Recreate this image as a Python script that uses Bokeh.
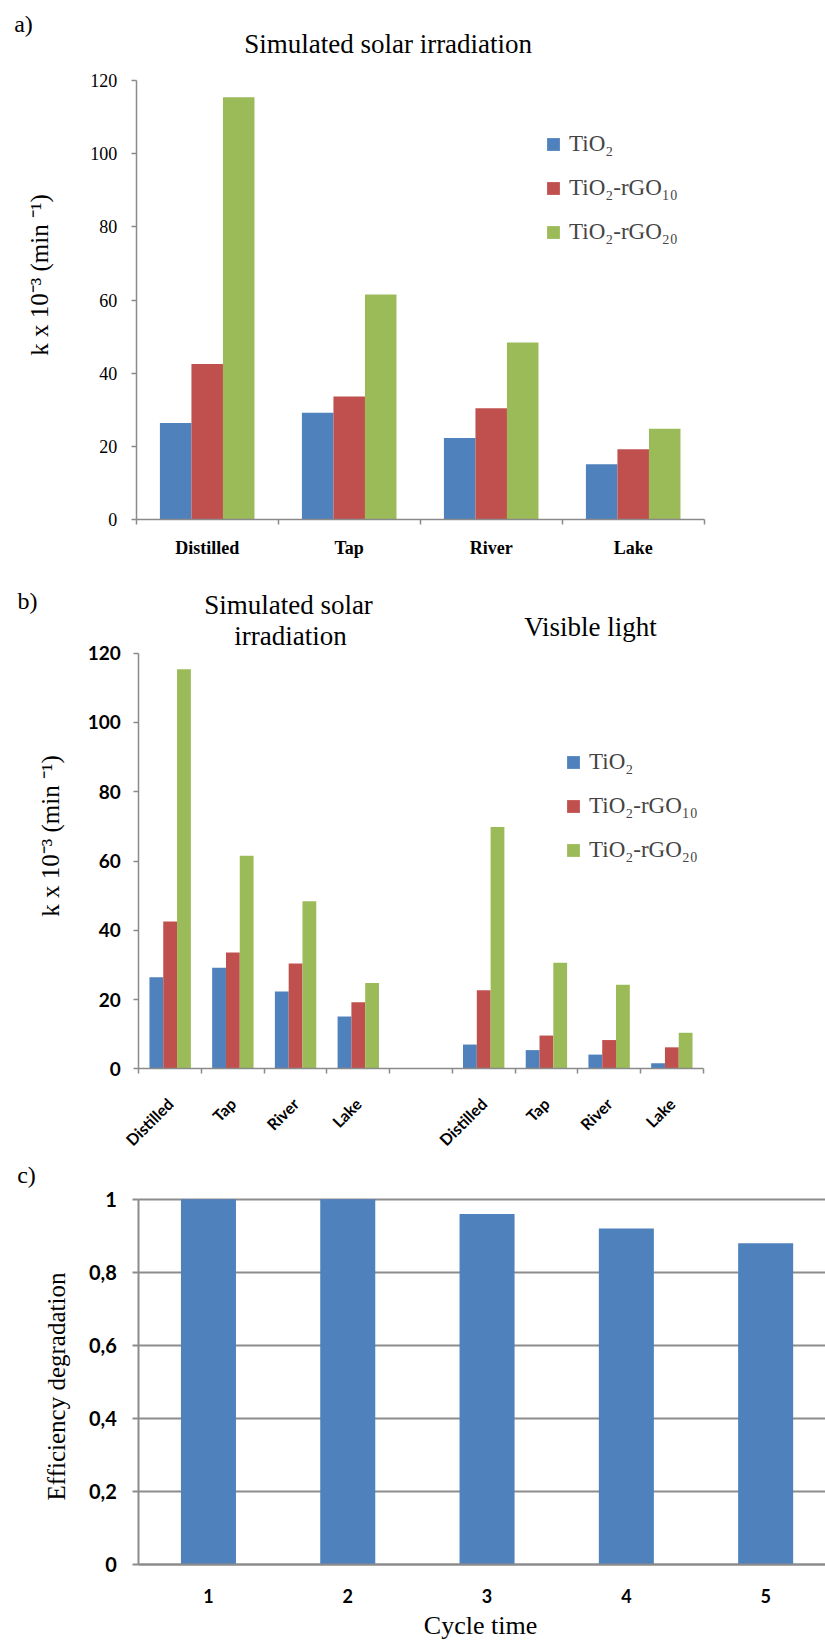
import math
from bokeh.plotting import figure
from bokeh.models import (ColumnDataSource, FixedTicker, Legend, LegendItem, Label,
                          Range1d, CustomJSTickFormatter, Grid)
from bokeh.layouts import column
from bokeh.embed import file_html
from bokeh.resources import INLINE

# ---------------- data ----------------
water = ["Distilled", "Tap", "River", "Lake"]
series_names = ["TiO₂", "TiO₂-rGO₁₀", "TiO₂-rGO₂₀"]
series_colors = ["#4F81BD", "#C0504D", "#9BBB59"]

solar_tio2 = [26.4, 29.2, 22.3, 15.1]
solar_rgo10 = [42.5, 33.6, 30.4, 19.2]
solar_rgo20 = [115.4, 61.5, 48.4, 24.8]

visible_tio2 = [7.0, 5.4, 4.1, 1.6]
visible_rgo10 = [22.7, 9.6, 8.3, 6.2]
visible_rgo20 = [69.8, 30.6, 24.3, 10.4]

cycles = ["1", "2", "3", "4", "5"]
efficiency = [1.0, 1.0, 0.96, 0.92, 0.88]

k_ticks = [0, 20, 40, 60, 80, 100, 120]
eff_ticks = [0, 0.2, 0.4, 0.6, 0.8, 1.0]
eff_tick_labels = ["0", "0,2", "0,4", "0,6", "0,8", "1"]

y_label_k = "k x 10⁻³ (min ⁻¹)"

# ---------------- layout / style ----------------
PAGE_W = 825
SERIF = "Liberation Serif"
SANS = "Lato"
AXIS_GREY = "#8a8a8a"

# page geometry of each panel: canvas top/height, y-axis pixel x, px per x unit,
# data x at the y-axis, pixel y of value 0, px per y unit
GEO_A = dict(top=0, height=570, axis_px=135.7, ppu_x=142.0, x_axis=0.0,
             zero_py=519.0, ppu_y=439.0 / 120)
GEO_B = dict(top=570, height=580, axis_px=138.3, ppu_x=62.71, x_axis=0.0,
             zero_py=1068.3, ppu_y=415.6 / 120)
GEO_C = dict(top=1150, height=495, axis_px=138.3, ppu_x=139.3, x_axis=0.5,
             zero_py=1564.3, ppu_y=365.5)


def ranges(g):
    x0 = g["x_axis"] - g["axis_px"] / g["ppu_x"]
    x1 = g["x_axis"] + (PAGE_W - g["axis_px"]) / g["ppu_x"]
    y0 = (g["zero_py"] - (g["top"] + g["height"])) / g["ppu_y"]
    y1 = (g["zero_py"] - g["top"]) / g["ppu_y"]
    return Range1d(x0, x1), Range1d(y0, y1)


def to_data(g, px, py):
    return (g["x_axis"] + (px - g["axis_px"]) / g["ppu_x"],
            (g["zero_py"] - py) / g["ppu_y"])


def add_text(p, g, px, py, text, size, angle=0.0, font=SERIF):
    x, y = to_data(g, px, py)
    p.add_layout(Label(x=x, y=y, text=text, angle=angle,
                       text_font=font, text_font_size=f"{size}px", text_align="center",
                       text_baseline="middle", text_color="black"))


def make_fig(g):
    xr, yr = ranges(g)
    p = figure(width=PAGE_W, height=g["height"], output_backend="svg",
               toolbar_location=None, x_range=xr, y_range=yr,
               min_border=0, min_border_left=0, min_border_right=0,
               min_border_top=0, min_border_bottom=0)
    p.outline_line_color = None
    p.xgrid.grid_line_color = None
    p.ygrid.grid_line_color = None
    p.background_fill_color = "white"
    p.border_fill_color = "white"
    p.xaxis.fixed_location = 0
    p.yaxis.fixed_location = g["x_axis"]
    for ax in (p.xaxis[0], p.yaxis[0]):
        ax.axis_line_color = AXIS_GREY
        ax.axis_line_width = 1.5
        ax.major_tick_line_color = AXIS_GREY
        ax.minor_tick_line_color = AXIS_GREY
        ax.major_tick_line_width = 1.5
        ax.minor_tick_line_width = 1.5
        ax.major_label_text_color = "black"
        ax.major_tick_in = 0
        ax.minor_tick_in = 0
    return p


def grouped_bars(p, positions, values_list, offset, width):
    renderers = []
    for k, (vals, col) in enumerate(zip(values_list, series_colors)):
        src = ColumnDataSource(dict(x=[c + (k - 1) * offset for c in positions], top=vals))
        r = p.vbar(x="x", top="top", width=width, bottom=0, source=src,
                   fill_color=col, line_color=None)
        renderers.append(r)
    return renderers


def add_legend(p, renderers, x, y):
    items = [LegendItem(label=n, renderers=[r]) for n, r in zip(series_names, renderers)]
    lg = Legend(items=items, location=(x, y), orientation="vertical",
                label_text_font=SERIF, label_text_font_size="23px",
                glyph_width=16, glyph_height=16, label_height=24, label_standoff=8,
                spacing=18, padding=0, margin=0, border_line_color=None,
                background_fill_alpha=0)
    p.add_layout(lg)


def category_x_axis(p, positions, labels, n_slots):
    ax = p.xaxis[0]
    ax.bounds = (0, n_slots)
    ax.ticker = FixedTicker(ticks=positions, minor_ticks=list(range(n_slots + 1)))
    ax.formatter = CustomJSTickFormatter(args=dict(labels=labels),
                                         code="return labels[Math.floor(tick)] || ''")
    ax.major_tick_out = 0
    ax.minor_tick_out = 5


def k_y_axis(p, font, bold, size, standoff):
    ax = p.yaxis[0]
    ax.bounds = (k_ticks[0], k_ticks[-1])
    ax.ticker = FixedTicker(ticks=k_ticks)
    ax.minor_tick_out = 0
    ax.major_tick_out = 5
    ax.major_label_standoff = standoff
    ax.major_label_text_font = font
    ax.major_label_text_font_size = f"{size}px"
    ax.major_label_text_font_style = "bold" if bold else "normal"


# ---------------- panel a ----------------
pa = make_fig(GEO_A)
centers_a = [i + 0.5 for i in range(len(water))]
ra = grouped_bars(pa, centers_a, [solar_tio2, solar_rgo10, solar_rgo20], 0.222, 0.222)
category_x_axis(pa, centers_a, water, len(water))
pa.xaxis.major_label_standoff = 13
pa.xaxis.major_label_text_font = SERIF
pa.xaxis.major_label_text_font_size = "18px"
pa.xaxis.major_label_text_font_style = "bold"
k_y_axis(pa, SERIF, False, 18, 14)
add_legend(pa, ra, 545, 325)
add_text(pa, GEO_A, 23, 23, "a)", 24)
add_text(pa, GEO_A, 391, 43, "Simulated solar  irradiation", 27)
add_text(pa, GEO_A, 39, 274.5, y_label_k, 25, angle=math.pi / 2)

# ---------------- panel b ----------------
b_labels = water + [""] + water
n_b = len(b_labels)
pos_solar = [i + 0.5 for i in range(len(water))]
pos_visible = [len(water) + 1 + i + 0.5 for i in range(len(water))]
pb = make_fig(GEO_B)
rb = grouped_bars(pb, pos_solar + pos_visible,
                  [solar_tio2 + visible_tio2, solar_rgo10 + visible_rgo10,
                   solar_rgo20 + visible_rgo20], 0.22, 0.22)
category_x_axis(pb, pos_solar + pos_visible, b_labels, n_b)
pb.xaxis.major_label_orientation = math.pi / 4
pb.xaxis.major_label_standoff = 27
pb.xaxis.major_label_text_font = SANS
pb.xaxis.major_label_text_font_size = "16px"
pb.xaxis.major_label_text_font_style = "bold"
k_y_axis(pb, SANS, True, 19, 13)
add_legend(pb, rb, 565, 287)
add_text(pb, GEO_B, 27, 600, "b)", 24)
add_text(pb, GEO_B, 288, 604, "Simulated solar", 27)
add_text(pb, GEO_B, 290, 635, "irradiation", 27)
add_text(pb, GEO_B, 590, 626, "Visible light", 27)
add_text(pb, GEO_B, 50, 835.5, y_label_k, 25, angle=math.pi / 2)

# ---------------- panel c ----------------
pc = make_fig(GEO_C)
cyc_x = [i + 1 for i in range(len(cycles))]
pc.vbar(x=cyc_x, top=efficiency, width=0.395, bottom=0,
        fill_color="#4F81BD", line_color=None)
x_end_c = pc.x_range.end
xa = pc.xaxis[0]
xa.bounds = (GEO_C["x_axis"], x_end_c)
xa.ticker = FixedTicker(ticks=cyc_x)
xa.formatter = CustomJSTickFormatter(args=dict(labels=cycles),
                                     code="return labels[Math.round(tick) - 1] || ''")
xa.major_tick_out = 0
xa.minor_tick_out = 0
xa.axis_line_width = 2
xa.axis_line_color = "#8c8c8c"
xa.major_label_standoff = 24
xa.major_label_text_font = SANS
xa.major_label_text_font_size = "18px"
xa.major_label_text_font_style = "bold"
ya = pc.yaxis[0]
ya.bounds = (eff_ticks[0], eff_ticks[-1])
ya.ticker = FixedTicker(ticks=eff_ticks)
ya.formatter = CustomJSTickFormatter(
    args=dict(t=eff_ticks, l=eff_tick_labels),
    code="for (let i = 0; i < t.length; i++) { if (Math.abs(t[i] - tick) < 1e-9) return l[i]; } return '';")
ya.axis_line_width = 2
ya.axis_line_color = "#8c8c8c"
ya.major_tick_out = 6
ya.major_tick_line_width = 2
ya.major_tick_line_color = "#8c8c8c"
ya.minor_tick_out = 0
ya.major_label_standoff = 16
ya.major_label_text_font = SANS
ya.major_label_text_font_size = "20px"
ya.major_label_text_font_style = "bold"
gr = pc.ygrid[0]
gr.grid_line_color = "#8c8c8c"
gr.grid_line_width = 2
gr.level = "underlay"
if "cross_bounds" in Grid.properties():
    gr.cross_bounds = (GEO_C["x_axis"], x_end_c)
else:
    gr.grid_line_color = None
    pc.segment(x0=[GEO_C["x_axis"]] * len(eff_ticks), x1=[x_end_c] * len(eff_ticks),
               y0=eff_ticks, y1=eff_ticks, line_color="#8c8c8c", line_width=2,
               level="underlay")
add_text(pc, GEO_C, 26, 1174, "c)", 24)
add_text(pc, GEO_C, 56, 1386, "Efficiency degradation", 25, angle=math.pi / 2)
add_text(pc, GEO_C, 480, 1625, "Cycle time", 26)

layout = column(pa, pb, pc, spacing=0)
open("out.html", "w").write(file_html(layout, INLINE))
